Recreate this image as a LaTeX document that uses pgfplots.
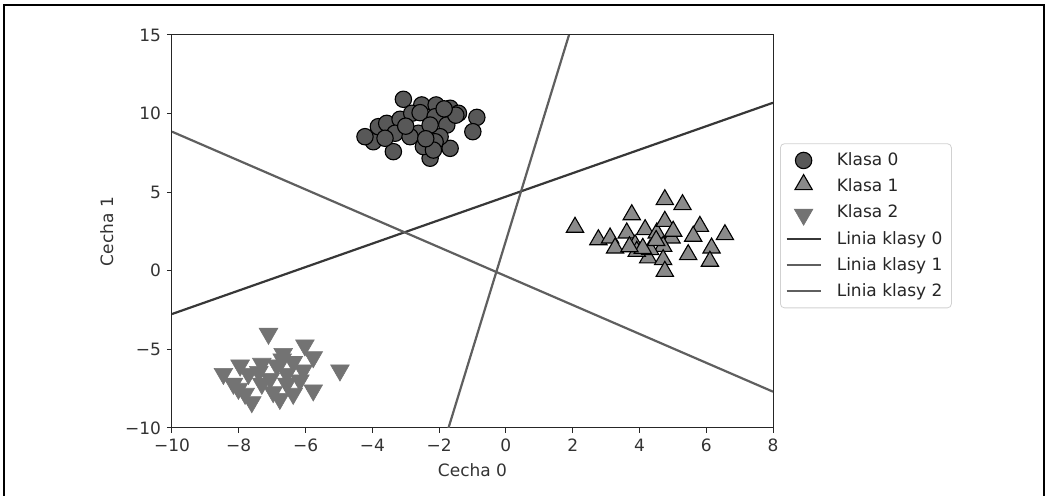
\documentclass[border=0pt]{standalone}
\usepackage{fontspec}
\setmainfont{DejaVu Sans}
\usepackage{pgfplots}
\pgfplotsset{compat=1.18}
\definecolor{czero}{RGB}{88,88,88}
\definecolor{cone}{RGB}{138,138,138}
\definecolor{ctwo}{RGB}{115,115,115}
\definecolor{lzero}{RGB}{55,55,55}
\definecolor{lone}{RGB}{95,95,95}
\definecolor{ltwo}{RGB}{95,95,95}
\begin{document}
\fontsize{8.5}{10}\selectfont
\begin{tikzpicture}
\useasboundingbox (-86pt,-34pt) rectangle (438pt,214pt);
\draw[line width=1.2pt] (-84pt,-40pt) -- (-84pt,211.5pt) -- (436pt,211.5pt) -- (436pt,-40pt);
\begin{axis}[
  at={(0,0)}, anchor=south west,
  scale only axis, width=300.5pt, height=196.5pt,
  xmin=-10, xmax=8, ymin=-10, ymax=15,
  xtick={-10,-8,-6,-4,-2,0,2,4,6,8},
  xticklabels={−10,−8,−6,−4,−2,0,2,4,6,8},
  ytick={-10,-5,0,5,10,15},
  yticklabels={−10,−5,0,5,10,15},
  tick align=outside, tick pos=left, major tick length=2.5pt,
  axis line style={draw=black!85, line width=0.5pt},
  every tick/.style={draw=black!85, line width=0.5pt},
  ticklabel style={font=\fontsize{8.5}{10}\selectfont, text=black!80},
  label style={font=\fontsize{8.5}{10}\selectfont, text=black!80},
  xlabel={Cecha 0}, ylabel={Cecha 1},
  legend cell align=left,
  legend style={at={(1.0117,0.5145)}, anchor=west, draw=black!18, rounded corners=2pt,
    font=\fontsize{8.5}{10}\selectfont, text=black!85, row sep=1.2pt,
    inner xsep=2.5pt, inner ysep=2.5pt},
]
\addplot[only marks, mark=*, mark size=4.1pt, mark options={fill=czero, draw=black, line width=0.55pt}] coordinates {
(-3.07,10.91) (-2.52,10.55) (-2.09,10.55) (-1.67,10.34) (-1.42,10.02) (-0.87,9.76)
(-0.99,8.85) (-1.67,7.79) (-2.27,7.16) (-2.47,7.90) (-3.37,7.58) (-3.97,8.21)
(-4.22,8.53) (-3.82,9.17) (-3.57,9.38) (-3.17,9.64) (-2.82,10.02) (-2.57,10.06)
(-2.12,9.80) (-1.77,9.27) (-1.97,8.53) (-2.62,8.75) (-2.27,9.27) (-3.32,8.75)
(-2.12,8.21) (-2.87,8.53) (-3.62,8.43) (-2.17,7.68) (-1.50,9.90) (-3.00,9.20)
(-2.40,8.40) (-1.85,10.30)
};
\addlegendentry{\hspace*{5.5pt}Klasa 0}
\addplot[only marks, mark=triangle*, mark size=5pt, mark options={fill=cone, draw=black, line width=0.55pt, yshift=1pt}] coordinates {
(2.07,2.64) (2.77,1.85) (3.12,1.96) (3.62,2.28) (3.77,3.44) (4.17,2.49)
(4.52,2.28) (4.76,3.02) (4.76,4.40) (5.29,4.08) (4.96,1.96) (4.71,1.43)
(4.26,0.69) (4.71,0.58) (4.76,-0.16) (3.87,1.53) (3.27,1.32) (3.92,1.11)
(5.46,0.90) (5.81,2.70) (5.61,2.07) (6.16,1.32) (6.56,2.17) (6.11,0.48)
(4.32,1.22) (5.01,2.39) (4.10,1.30) (3.70,1.40) (4.50,1.80)
};
\addlegendentry{\hspace*{5.5pt}Klasa 1}
\addplot[only marks, mark=triangle*, mark size=5.4pt, mark options={fill=ctwo, draw=ctwo, line width=0.3pt, rotate=180, yshift=1pt}] coordinates {
(-7.11,-3.87) (-6.02,-4.61) (-6.67,-5.15) (-5.77,-5.36) (-4.97,-6.20) (-8.46,-6.42)
(-7.96,-5.89) (-7.31,-5.78) (-6.86,-5.89) (-6.37,-5.67) (-8.16,-7.05) (-7.71,-6.42)
(-7.06,-6.74) (-6.56,-6.42) (-6.07,-6.20) (-7.81,-7.69) (-7.61,-8.22) (-6.97,-7.58)
(-6.77,-8.01) (-6.37,-7.69) (-5.77,-7.47) (-7.31,-7.05) (-8.01,-7.37) (-6.56,-7.05)
(-6.17,-6.84) (-6.70,-5.50) (-7.40,-6.30)
};
\addlegendentry{\hspace*{5.5pt}Klasa 2}
\addplot[lzero, line width=1.1pt] coordinates {(-10,-2.75) (8,10.69)};
\addlegendentry{\hspace*{5.5pt}Linia klasy 0}
\addplot[lone, line width=1.1pt] coordinates {(-10,8.85) (8,-7.69)};
\addlegendentry{\hspace*{5.5pt}Linia klasy 1}
\addplot[ltwo, line width=1.1pt] coordinates {(-1.72,-10) (1.89,15)};
\addlegendentry{\hspace*{5.5pt}Linia klasy 2}
\end{axis}
\end{tikzpicture}
\end{document}
